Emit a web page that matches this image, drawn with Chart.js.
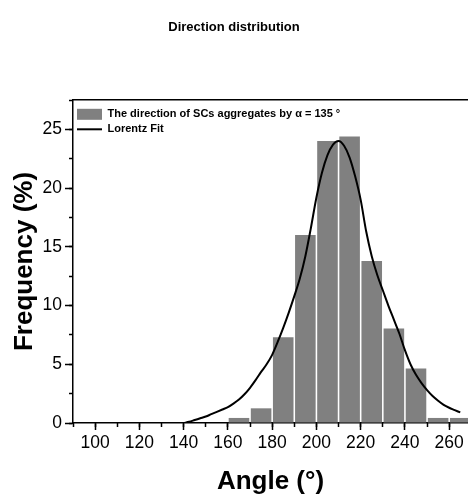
<!DOCTYPE html>
<html>
<head>
<meta charset="utf-8">
<title>Direction distribution</title>
<script src="https://cdn.jsdelivr.net/npm/chart.js@4.4.1/dist/chart.umd.min.js"></script>
<style>
  html, body { margin: 0; padding: 0; background: #fff; }
  canvas { display: block; }
</style>
</head>
<body>
<canvas id="chart" width="468" height="497"></canvas>
<script>
// Histogram: centre of each 10 degree bin and its frequency (%)
const binCenters = [165, 175, 185, 195, 205, 215, 225, 235, 245, 255, 265];
const frequencies = [0.43, 1.25, 7.3, 16.0, 24.0, 24.4, 13.8, 8.05, 4.65, 0.43, 0.43];

// Lorentz fit, every 2.5 degrees
const fitAngles = [140, 142.5, 145, 147.5, 150, 152.5, 155, 157.5, 160, 162.5,
                   165, 167.5, 170, 172.5, 175, 177.5, 180, 182.5, 185, 187.5,
                   190, 192.5, 195, 197.5, 200, 202.5, 205, 207.5, 210, 212.5,
                   215, 217.5, 220, 222.5, 225, 227.5, 230, 232.5, 235, 237.5,
                   240, 242.5, 245, 247.5, 250, 252.5, 255, 257.5, 260, 262.5, 265];
const fitValues = [0, 0.1, 0.25, 0.4, 0.55, 0.75, 0.95, 1.15, 1.35, 1.65,
                   2.0, 2.45, 3.0, 3.65, 4.35, 5.0, 5.8, 6.9, 8.1, 9.4,
                   10.8, 12.3, 14.2, 16.6, 19.2, 21.3, 22.8, 23.7, 24.0, 23.6,
                   22.6, 21.0, 19.0, 16.3, 14.2, 12.6, 11.3, 10.0, 8.8, 7.6,
                   6.2, 5.0, 4.1, 3.4, 2.8, 2.3, 1.9, 1.55, 1.3, 1.1, 0.9];

// Tick labels
const xTickValues = [100, 120, 140, 160, 180, 200, 220, 240, 260];
const yTickValues = [0, 5, 10, 15, 20, 25];

const barLabel = 'The direction of SCs aggregates by α = 135 °';
const fitLabel = 'Lorentz Fit';

const X_MIN = 90;
const X_MAX = 268.5;
const Y_MAX = 27.5;

Chart.defaults.font.family = '"Liberation Sans", Arial, sans-serif';
Chart.defaults.color = '#000';


// shared pieces for the axes
const axisLine = { display: true, color: '#000', width: 1.5 };
const tickFont = { size: 17.5 };

function minorAxis(position, min, max, step) {
  const horizontal = position === 'bottom';
  return {
    type: 'linear',
    position: position,
    min: min,
    max: max,
    offset: false,
    weight: 0,
    border: { display: false },
    grid: { drawOnChartArea: false, offset: false, tickLength: 4, tickColor: '#000', tickWidth: 1.5 },
    ticks: { display: false, stepSize: step, includeBounds: false },
    afterFit: axis => {
      if (horizontal) axis.height = 0; else axis.width = 0;
    }
  };
}

// 'chartArea' legends get their top reset to 0 by the layout, put it back inside the plot
const legendInPlot = {
  id: 'legendInPlot',
  afterLayout(chart) {
    const legend = chart.legend;
    if (!legend) return;
    const shift = chart.chartArea.top - legend.top;
    legend.top += shift;
    legend.bottom += shift;
  }
};


new Chart(document.getElementById('chart'), {
  type: 'bar',
  plugins: [legendInPlot],
  data: {
    datasets: [{
      type: 'bar',
      label: barLabel,
      data: binCenters.map((x, i) => ({ x: x, y: frequencies[i] })),
      backgroundColor: '#808080',
      borderWidth: 0,
      barPercentage: 0.93,
      categoryPercentage: 1,
      pointStyle: 'rect',
      order: 1
    }, {
      type: 'line',
      label: fitLabel,
      data: fitAngles.map((x, i) => ({ x: x, y: fitValues[i] })),
      borderColor: '#000',
      backgroundColor: '#000',
      borderWidth: 2,
      pointRadius: 0,
      cubicInterpolationMode: 'monotone',
      fill: false,
      pointStyle: 'line',
      order: 0
    }]
  },
  options: {
    responsive: false,
    animation: false,
    layout: { padding: 0 },
    plugins: {
      title: {
        display: true,
        text: 'Direction distribution',
        color: '#000',
        font: { size: 13, weight: 'bold' },
        padding: { top: 20, bottom: 64.4 }
      },
      legend: {
        position: 'chartArea',
        align: 'start',
        title: { display: true, text: ' ', font: { size: 4 }, padding: 0 },
        labels: {
          usePointStyle: true,
          pointStyleWidth: 25,
          padding: 4,
          color: '#000',
          font: { size: 11, weight: 'bold' },
          sort: (a, b) => a.datasetIndex - b.datasetIndex
        }
      },
      tooltip: { enabled: false }
    },
    scales: {
      x: {
        type: 'linear',
        position: 'bottom',
        min: X_MIN,
        max: X_MAX,
        offset: false,
        weight: 1,
        border: axisLine,
        grid: { drawOnChartArea: false, offset: false, tickLength: 7, tickColor: '#000', tickWidth: 1.5 },
        ticks: { font: tickFont, color: '#000', padding: 3, maxRotation: 0, autoSkip: false },
        afterBuildTicks: axis => { axis.ticks = xTickValues.map(v => ({ value: v })); },
        title: {
          display: true,
          text: 'Angle (°)',
          color: '#000',
          font: { size: 26, weight: 'bold' },
          padding: 0
        },
        afterFit: axis => { axis.height = 74; }
      },
      xMinor: minorAxis('bottom', X_MIN, X_MAX, 10),
      xTop: {
        type: 'linear',
        position: 'top',
        min: X_MIN,
        max: X_MAX,
        offset: false,
        border: axisLine,
        grid: { drawOnChartArea: false, drawTicks: false },
        ticks: { display: false },
        afterFit: axis => { axis.height = 0; }
      },
      y: {
        type: 'linear',
        position: 'left',
        min: 0,
        max: Y_MAX,
        weight: 1,
        border: axisLine,
        grid: { drawOnChartArea: false, tickLength: 8, tickColor: '#000', tickWidth: 1.5 },
        ticks: { font: tickFont, color: '#000', padding: 3 },
        afterBuildTicks: axis => { axis.ticks = yTickValues.map(v => ({ value: v })); },
        title: {
          display: true,
          text: 'Frequency (%)',
          color: '#000',
          font: { size: 26, weight: 'bold' },
          padding: { top: 9, bottom: 0 }
        },
        afterFit: axis => { axis.width = 73; }
      },
      yMinor: minorAxis('left', 0, Y_MAX, 2.5)
    }
  }
});
</script>
</body>
</html>
